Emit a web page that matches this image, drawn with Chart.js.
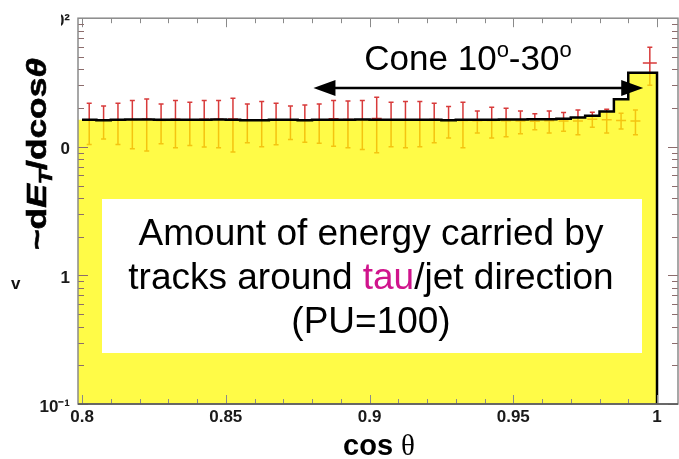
<!DOCTYPE html>
<html>
<head>
<meta charset="utf-8">
<script src="https://cdn.jsdelivr.net/npm/chart.js@4.4.0/dist/chart.umd.min.js"></script>
<style>
  html, body { margin: 0; padding: 0; background: #fff; }
  canvas { display: block; }
</style>
</head>
<body>
<canvas id="chart" width="679" height="459"></canvas>
<script>
// lower edge of each cos(theta) bin
const binLow = [0.800, 0.805, 0.810, 0.815, 0.820, 0.825, 0.830, 0.835, 0.840, 0.845,
                0.850, 0.855, 0.860, 0.865, 0.870, 0.875, 0.880, 0.885, 0.890, 0.895,
                0.900, 0.905, 0.910, 0.915, 0.920, 0.925, 0.930, 0.935, 0.940, 0.945,
                0.950, 0.955, 0.960, 0.965, 0.970, 0.975, 0.980, 0.985, 0.990, 0.995];
const binWidth = 0.005;

// yellow histogram (black outline)
const histValues = [16.2, 16.2, 16.1, 16.2, 16.3, 16.3, 16.2, 16.2, 16.2, 16.2,
                    16.3, 16.2, 16.1, 16.1, 16.2, 16.2, 16.1, 16.2, 16.2, 16.2,
                    16.3, 16.2, 16.2, 16.2, 16.2, 16.2, 16.1, 16.2, 16.2, 16.2,
                    16.3, 16.3, 16.4, 16.4, 16.5, 16.9, 17.4, 18.8, 23.4, 37.6];

// red points with error bars
const pointValues = [16.11, 16.15, 16.11, 16.26, 16.40, 16.05, 16.35, 16.21, 16.41, 16.35,
                     16.46, 16.14, 16.24, 16.08, 16.08, 16.02, 16.11, 16.50, 16.27, 16.20,
                     16.62, 16.10, 16.15, 16.24, 16.27, 16.15, 16.00, 15.92, 16.02, 15.95,
                     15.84, 15.82, 15.92, 15.85, 15.90, 16.40, 16.21, 16.00, 15.90, 44.84];
const pointErrors = [5.69, 4.63, 5.69, 6.61, 7.13, 5.50, 6.53, 5.98, 6.46, 6.53,
                     7.36, 5.40, 6.24, 5.72, 4.70, 5.15, 5.43, 6.38, 6.45, 6.67,
                     7.63, 6.10, 6.33, 6.24, 5.53, 4.42, 6.19, 3.10, 4.29, 4.00,
                     3.18, 2.23, 3.10, 2.64, 3.47, 2.20, 3.39, 2.26, 3.47, 14.69];

const xTicks = [0.8, 0.85, 0.9, 0.95, 1];
const xTickLabels = ["0.8", "0.85", "0.9", "0.95", "1"];
const yTicks = [0.1, 1, 10, 100];
const yTickLabels = ["10\u207B\u00B9", "1", "10", "10\u00B2"];

const X_MIN = 0.7986, X_MAX = 1.0073;
const Y_MIN = 0.1, Y_MAX = 100;
const FONT = "'Liberation Sans', Arial, sans-serif";

// step outline: each bin from its lower edge, closed down at the last upper edge
const lastEdge = binLow[binLow.length - 1] + binWidth;
const histLine = binLow.map((x, i) => ({ x: x, y: histValues[i] }));
histLine.push({ x: lastEdge, y: histValues[histValues.length - 1] });
histLine.push({ x: lastEdge, y: Y_MIN });
const histFill = [{ x: X_MIN, y: histValues[0] }].concat(histLine);

const errorBars = {
  id: 'errorBars',
  beforeDatasetsDraw(chart) {
    const { ctx, scales: { x, y } } = chart;
    ctx.save();
    ctx.strokeStyle = '#d83a3a';
    ctx.lineWidth = 1.5;
    pointValues.forEach((v, i) => {
      const px = x.getPixelForValue(binLow[i] + binWidth / 2);
      const top = y.getPixelForValue(v + pointErrors[i]);
      const bot = y.getPixelForValue(v - pointErrors[i]);
      const mid = y.getPixelForValue(v);
      const half = i === pointValues.length - 1 ? 7 : 5;
      ctx.beginPath();
      ctx.moveTo(px, top); ctx.lineTo(px, bot);
      ctx.moveTo(px - 2.5, top); ctx.lineTo(px + 2.5, top);
      ctx.moveTo(px - 2.5, bot); ctx.lineTo(px + 2.5, bot);
      ctx.moveTo(px - half, mid); ctx.lineTo(px + half, mid);
      ctx.stroke();
    });
    ctx.restore();
  }
};

const frame = {
  id: 'frame',
  afterDatasetsDraw(chart) {
    const { ctx, chartArea: a, scales: { x, y } } = chart;
    ctx.save();
    ctx.lineWidth = 1;
    // x ticks every 0.01, longer at 0.05
    ctx.strokeStyle = '#8a8a8a';
    ctx.beginPath();
    for (let k = 80; k <= 100; k++) {
      const px = Math.round(x.getPixelForValue(k / 100)) + 0.5;
      const len = k % 5 === 0 ? 9 : 5;
      ctx.moveTo(px, a.bottom); ctx.lineTo(px, a.bottom - len);
      ctx.moveTo(px, a.top); ctx.lineTo(px, a.top + len);
    }
    ctx.stroke();
    // log ticks on left and right
    ctx.strokeStyle = '#8c6c6c';
    ctx.beginPath();
    [0.1, 1, 10].forEach(d => {
      for (let m = 1; m <= 9; m++) {
        const py = Math.round(y.getPixelForValue(m * d)) + 0.5;
        const len = m === 1 ? 10 : 6;
        ctx.moveTo(a.left, py); ctx.lineTo(a.left + len, py);
        ctx.moveTo(a.right, py); ctx.lineTo(a.right - len, py);
      }
    });
    ctx.stroke();
    // frame
    ctx.strokeStyle = '#8a8a8a';
    ctx.lineWidth = 1.5;
    ctx.strokeRect(a.left, a.top, a.right - a.left, a.bottom - a.top);
    ctx.strokeStyle = '#555';
    ctx.beginPath();
    ctx.moveTo(a.left, a.bottom); ctx.lineTo(a.right, a.bottom);
    ctx.stroke();
    ctx.restore();
  }
};

function drawParts(ctx, parts, cx, baseline) {
  let total = 0;
  parts.forEach(p => { ctx.font = p.font; total += ctx.measureText(p.text).width; });
  let px = cx - total / 2;
  parts.forEach(p => {
    ctx.font = p.font;
    ctx.fillStyle = p.color || '#000';
    ctx.fillText(p.text, px, baseline + (p.dy || 0));
    px += ctx.measureText(p.text).width;
  });
}

const overlay = {
  id: 'overlay',
  afterDraw(chart) {
    const { ctx, scales: { x } } = chart;
    ctx.save();
    ctx.textBaseline = 'alphabetic';
    ctx.textAlign = 'left';

    // white label box
    ctx.fillStyle = '#fff';
    ctx.fillRect(102, 199, 540, 154);
    const big = '37px ' + FONT;
    drawParts(ctx, [{ text: 'Amount of energy carried by', font: big }], 371, 245);
    drawParts(ctx, [
      { text: 'tracks around ', font: big },
      { text: 'tau', font: big, color: '#d0148c' },
      { text: '/jet direction', font: big }
    ], 371, 289);
    drawParts(ctx, [{ text: '(PU=100)', font: big }], 371, 333);

    // cone annotation
    const cf = '35px ' + FONT, sf = '22px ' + FONT;
    drawParts(ctx, [
      { text: 'Cone 10', font: cf },
      { text: 'o', font: sf, dy: -13 },
      { text: '-30', font: cf },
      { text: 'o', font: sf, dy: -13 }
    ], 468, 70);

    const ax1 = x.getPixelForValue(0.8805), ax2 = x.getPixelForValue(0.9952), ay = 88;
    const hl = 22, hw = 8;
    ctx.strokeStyle = '#000';
    ctx.lineWidth = 2.5;
    ctx.beginPath();
    ctx.moveTo(ax1 + hl - 2, ay); ctx.lineTo(ax2 - hl + 2, ay);
    ctx.stroke();
    ctx.fillStyle = '#000';
    ctx.beginPath();
    ctx.moveTo(ax1, ay); ctx.lineTo(ax1 + hl, ay - hw); ctx.lineTo(ax1 + hl, ay + hw); ctx.closePath();
    ctx.moveTo(ax2, ay); ctx.lineTo(ax2 - hl, ay - hw); ctx.lineTo(ax2 - hl, ay + hw); ctx.closePath();
    ctx.fill();

    // y title sits over the left part of the tick labels
    ctx.fillStyle = '#fff';
    ctx.fillRect(0, 0, 61, 300);
    ctx.save();
    ctx.translate(46, 250);
    ctx.rotate(-Math.PI / 2);
    const tparts = [
      { text: '~d', font: 'bold 27px ' + FONT },
      { text: 'E', font: 'italic bold 27px ' + FONT },
      { text: 'T', font: 'italic bold 18px ' + FONT, dy: 6 },
      { text: '/dcos', font: 'bold 27px ' + FONT },
      { text: '\u03B8', font: 'italic bold 27px ' + FONT }
    ];
    let tw = 0;
    tparts.forEach(p => { ctx.font = p.font; tw += ctx.measureText(p.text).width; });
    ctx.scale(192 / tw, 1);
    let tx = 0;
    ctx.fillStyle = '#000';
    ctx.strokeStyle = '#000';
    ctx.lineWidth = 0.6;
    tparts.forEach(p => {
      ctx.font = p.font;
      ctx.fillText(p.text, tx, p.dy || 0);
      ctx.strokeText(p.text, tx, p.dy || 0);
      tx += ctx.measureText(p.text).width;
    });
    ctx.restore();

    ctx.font = 'bold 17px ' + FONT;
    ctx.fillStyle = '#111';
    ctx.fillText('v', 11, 289);

    // x title
    ctx.fillStyle = '#111';
    drawParts(ctx, [
      { text: 'cos ', font: 'bold 29px ' + FONT },
      { text: '\u03B8', font: '29px "Liberation Serif", "Times New Roman", serif' }
    ], 379, 455);
    ctx.restore();
  }
};

new Chart(document.getElementById('chart'), {
  type: 'line',
  data: {
    datasets: [
      {
        data: histLine,
        stepped: 'after',
        borderColor: '#000',
        borderWidth: 2.5,
        pointRadius: 0,
        fill: false,
        order: 0
      },
      {
        data: histFill,
        stepped: 'after',
        borderWidth: 0,
        borderColor: 'rgba(0,0,0,0)',
        backgroundColor: 'rgba(255,250,0,0.72)',
        pointRadius: 0,
        fill: 'start',
        order: 1
      }
    ]
  },
  options: {
    responsive: false,
    animation: false,
    layout: { padding: { top: 14, right: 1, left: 0, bottom: 0 } },
    plugins: { legend: { display: false }, tooltip: { enabled: false } },
    scales: {
      x: {
        type: 'linear',
        min: X_MIN,
        max: X_MAX,
        afterBuildTicks: s => { s.ticks = xTicks.map(v => ({ value: v })); },
        afterFit: s => { s.height = 55; },
        grid: { display: false, drawTicks: false },
        border: { display: false },
        ticks: {
          callback: (v, i) => xTickLabels[i],
          autoSkip: false,
          maxRotation: 0,
          padding: 3,
          color: '#1a1a1a',
          font: { family: FONT, size: 17, weight: 'bold' }
        }
      },
      y: {
        type: 'logarithmic',
        min: Y_MIN,
        max: Y_MAX,
        afterBuildTicks: s => { s.ticks = yTicks.map(v => ({ value: v })); },
        afterFit: s => { s.width = 78; },
        grid: { display: false, drawTicks: false },
        border: { display: false },
        ticks: {
          callback: (v, i) => yTickLabels[i],
          autoSkip: false,
          padding: 8,
          labelOffset: 3,
          color: '#1a1a1a',
          font: { family: FONT, size: 17, weight: 'bold' }
        }
      }
    }
  },
  plugins: [errorBars, frame, overlay]
});
</script>
</body>
</html>
